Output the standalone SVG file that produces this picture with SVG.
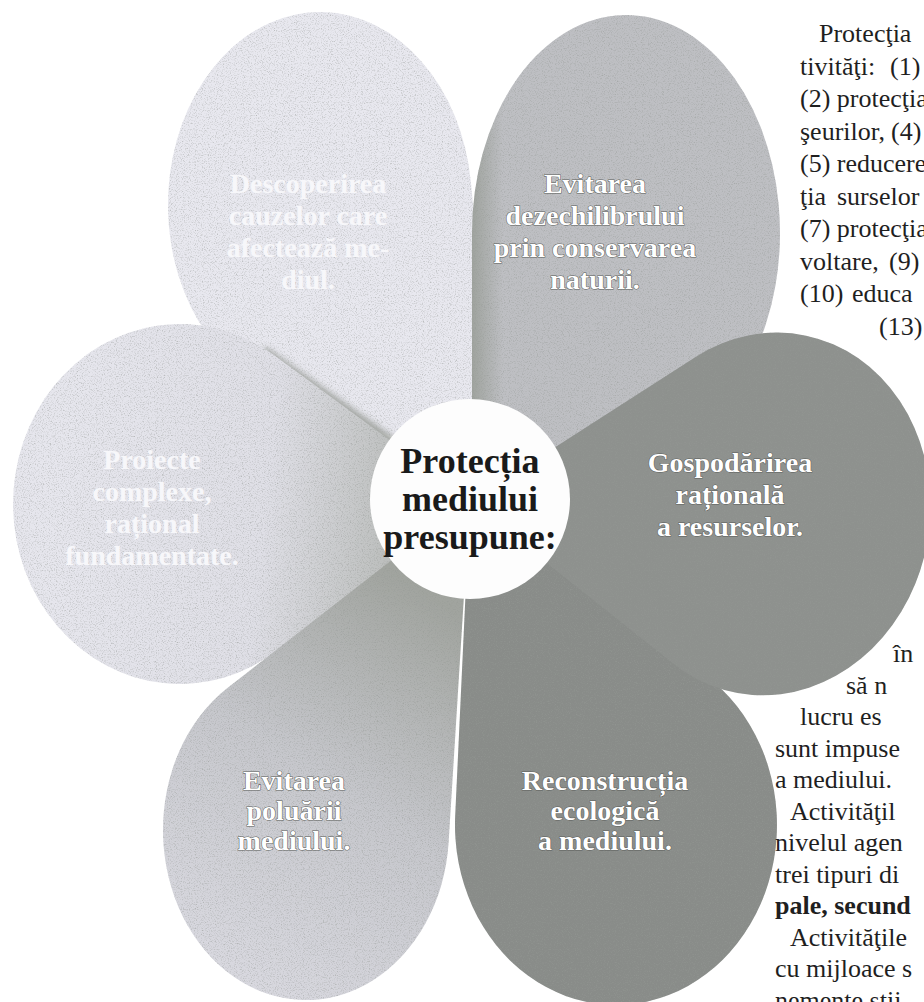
<svg xmlns="http://www.w3.org/2000/svg" width="924" height="1002" viewBox="0 0 924 1002">
<defs>
<style>
.body{font-family:"Liberation Serif","Times New Roman",serif;font-size:26px;fill:#1f1f1f}
.bodyb{font-family:"Liberation Serif","Times New Roman",serif;font-size:26px;font-weight:bold;fill:#1f1f1f}
.pt{font-family:"Liberation Serif","Times New Roman",serif;font-size:28px;font-weight:bold;text-anchor:middle}
.faint{fill:#f7f7fa}
.emb{fill:#ffffff;stroke:#5c5e5b;stroke-width:1.1px;paint-order:stroke}
.ct{font-family:"Liberation Serif","Times New Roman",serif;font-size:36px;font-weight:bold;text-anchor:middle;fill:#1a1a1a}
.petal{filter:url(#grain)}
</style>
<linearGradient id="gL" gradientUnits="userSpaceOnUse" x1="60" y1="500" x2="430" y2="540">
<stop offset="0" stop-color="#e6e6ed"/><stop offset="0.55" stop-color="#dfdfe6"/><stop offset="1" stop-color="#b1b4b0"/>
</linearGradient>
<linearGradient id="gBL" gradientUnits="userSpaceOnUse" x1="220" y1="960" x2="450" y2="610">
<stop offset="0" stop-color="#d8d8df"/><stop offset="0.5" stop-color="#c6c7cc"/><stop offset="1" stop-color="#a1a49f"/>
</linearGradient>
<linearGradient id="gTR" gradientUnits="userSpaceOnUse" x1="472" y1="0" x2="503" y2="0">
<stop offset="0" stop-color="#9fa39e"/><stop offset="1" stop-color="#bebfc3"/>
</linearGradient>
<filter id="blur" x="-20%" y="-20%" width="140%" height="140%"><feGaussianBlur stdDeviation="3"/></filter>
<filter id="grain" x="0" y="0" width="100%" height="100%">
<feTurbulence type="fractalNoise" baseFrequency="0.85" numOctaves="2" seed="7" result="n"/>
<feColorMatrix in="n" type="matrix" values="0 0 0 0 0.3  0 0 0 0 0.32  0 0 0 0 0.3  1.6 0 0 0 -0.78" result="d"/>
<feComposite in="d" in2="SourceGraphic" operator="in" result="dm"/>
<feMerge><feMergeNode in="SourceGraphic"/><feMergeNode in="dm"/></feMerge>
</filter>
</defs>
<rect width="924" height="1002" fill="#ffffff"/>

<g id="petal-top-left">
<path class="petal" d="M500,480 L274,389 A152,193 0 1,1 470.8,181.2 Z" fill="#e8e8ef"/>
<text class="pt faint"><tspan x="308" y="193">Descoperirea</tspan><tspan x="308" y="225">cauzelor care</tspan><tspan x="308" y="257">afectează me-</tspan><tspan x="308" y="289">diul.</tspan></text>
</g>

<line x1="262" y1="352" x2="430" y2="470" stroke="#a3a6a2" stroke-width="12" filter="url(#blur)"/>

<g id="petal-left">
<path class="petal" d="M470,499 L278.2,649.6 A167,180 0 1,1 273.9,355.1 Z" fill="url(#gL)"/>
<text class="pt faint"><tspan x="152" y="469">Proiecte</tspan><tspan x="152" y="501">complexe,</tspan><tspan x="152" y="533">rațional</tspan><tspan x="152" y="565">fundamentate.</tspan></text>
</g>

<g id="petal-top-right">
<path class="petal" d="M472,499 L472,233 A154,218 0 1,1 656.3,446.7 Z" fill="url(#gTR)"/>
<text class="pt emb"><tspan x="595" y="193">Evitarea</tspan><tspan x="595" y="225">dezechilibrului</tspan><tspan x="595" y="257">prin conservarea</tspan><tspan x="595" y="289">naturii.</tspan></text>
</g>

<g id="petal-bottom-left">
<path class="petal" d="M470,499 L448.6,842.5 A143,170 0 1,1 227.7,687.8 Z" fill="url(#gBL)"/>
<text class="pt emb"><tspan x="294" y="790">Evitarea</tspan><tspan x="294" y="820">poluării</tspan><tspan x="294" y="850">mediului.</tspan></text>
</g>

<g id="petal-bottom-right">
<path class="petal" d="M470,499 L705.6,675.4 A161,180 0 1,1 455.2,815.6 Z" fill="#898c89"/>
<text class="pt emb"><tspan x="605" y="790">Reconstrucția</tspan><tspan x="605" y="820">ecologică</tspan><tspan x="605" y="850">a mediului.</tspan></text>
</g>

<g id="petal-right">
<path class="petal" d="M470,502 L695.2,357.2 A160,182 10 1,1 673.5,663.8 Z" fill="#8e918e"/>
<text class="pt emb"><tspan x="730" y="472">Gospodărirea</tspan><tspan x="730" y="504">rațională</tspan><tspan x="730" y="536">a resurselor.</tspan></text>
</g>

<g id="center">
<circle cx="470" cy="499" r="100" fill="#fdfdfd"/>
<text class="ct"><tspan x="470" y="473">Protecția</tspan><tspan x="470" y="511">mediului</tspan><tspan x="470" y="549">presupune:</tspan></text>
</g>

<g id="connectors"/>

<g id="body-text-top">
<text class="body" x="819" y="42">Protecţia</text>
<text class="body" y="74.5"><tspan x="800">tivităţi:</tspan><tspan x="890">(1)</tspan></text>
<text class="body" x="800" y="107">(2) protecţia</text>
<text class="body" y="139.5"><tspan x="800">şeurilor,</tspan><tspan x="891">(4)</tspan></text>
<text class="body" x="800" y="172">(5) reducere</text>
<text class="body" y="204.5"><tspan x="800">ţia</tspan><tspan x="837">surselor</tspan></text>
<text class="body" x="800" y="237">(7) protecţia</text>
<text class="body" y="269.5"><tspan x="800">voltare,</tspan><tspan x="889">(9)</tspan></text>
<text class="body" y="302"><tspan x="800">(10)</tspan><tspan x="852">educa</tspan></text>
<text class="body" x="879" y="334.5">(13)</text>
</g>

<g id="body-text-bottom">
<text class="body" x="893" y="662">în</text>
<text class="body" x="846" y="693.5">să n</text>
<text class="body" x="800" y="725">lucru es</text>
<text class="body" x="775" y="756.5">sunt impuse</text>
<text class="body" x="775" y="788">a mediului.</text>
<text class="body" x="790" y="819.5">Activităţil</text>
<text class="body" x="775" y="851">nivelul agen</text>
<text class="body" x="775" y="882.5">trei tipuri di</text>
<text class="bodyb" x="775" y="914">pale, secund</text>
<text class="body" x="790" y="945.5">Activităţile</text>
<text class="body" x="775" y="977">cu mijloace s</text>
<text class="body" x="775" y="1009">nemente ştii</text>
</g>
</svg>
